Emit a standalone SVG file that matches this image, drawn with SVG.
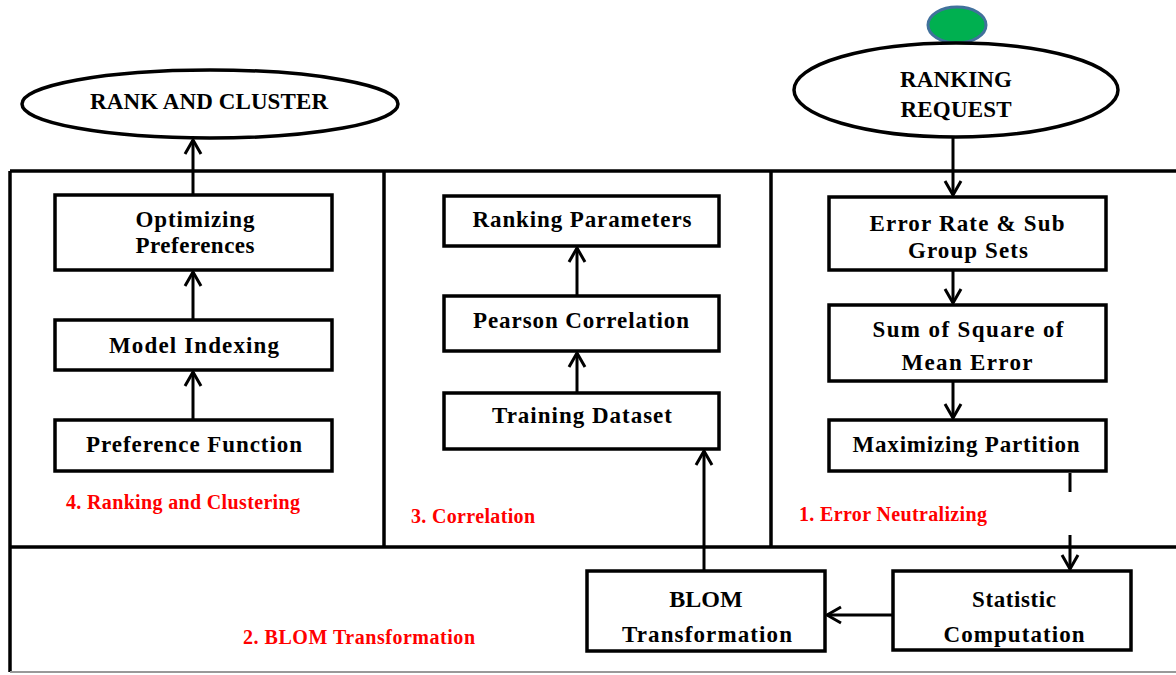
<svg xmlns="http://www.w3.org/2000/svg" width="1176" height="675" viewBox="0 0 1176 675">
<defs>
<marker id="arr" viewBox="0 0 20 20" refX="18" refY="10" markerWidth="20" markerHeight="20" markerUnits="userSpaceOnUse" orient="auto">
<path d="M4,2 L18,10 L4,18" fill="none" stroke="#000" stroke-width="3"/>
</marker>
<style>
.box{fill:#fff;stroke:#000;stroke-width:3.5}
.frame{fill:none;stroke:#000;stroke-width:3.5}
.t{font-family:"Liberation Serif","Times New Roman",serif;font-weight:bold;font-size:23px;fill:#000;text-anchor:middle}
.r{font-family:"Liberation Serif","Times New Roman",serif;font-weight:bold;font-size:20px;fill:#ff0000}
.c{fill:none;stroke:#000;stroke-width:3}
</style>
</defs>
<rect width="1176" height="675" fill="#fff"/>
<g id="frame">
<line class="frame" x1="10" y1="171" x2="1176" y2="171"/>
<line class="frame" x1="10" y1="171" x2="10" y2="672"/>
<line class="frame" x1="10" y1="547" x2="1176" y2="547"/>
<line class="frame" x1="384" y1="171" x2="384" y2="547"/>
<line class="frame" x1="771" y1="171" x2="771" y2="547"/>
<line x1="10" y1="672" x2="1176" y2="672" stroke="#999" stroke-width="2"/>
</g>
<g id="labels">
<text class="r" x="66" y="509" textLength="234" lengthAdjust="spacing">4. Ranking and Clustering</text>
<text class="r" x="411" y="523" textLength="124" lengthAdjust="spacing">3. Correlation</text>
<text class="r" x="799" y="521" textLength="188" lengthAdjust="spacing">1. Error Neutralizing</text>
<text class="r" x="243" y="644" textLength="232" lengthAdjust="spacing">2. BLOM Transformation</text>
</g>
<g id="start-dot"><ellipse cx="957" cy="25" rx="29" ry="18" fill="#00B050" stroke="#41719C" stroke-width="3"/></g>
<g id="ranking-request"><ellipse cx="956" cy="90" rx="162" ry="47" class="box"/>
<text class="t" x="956" y="87" textLength="112" lengthAdjust="spacing">RANKING</text><text class="t" x="956" y="117" textLength="111" lengthAdjust="spacing">REQUEST</text></g>
<g id="rank-and-cluster"><ellipse cx="210" cy="104" rx="188" ry="34" class="box"/>
<text class="t" x="209" y="109" textLength="238" lengthAdjust="spacing">RANK AND CLUSTER</text></g>
<g id="optimizing"><rect class="box" x="55" y="195" width="277" height="75"/>
<text class="t" x="195" y="227" textLength="119" lengthAdjust="spacing">Optimizing</text><text class="t" x="195" y="253" textLength="119" lengthAdjust="spacing">Preferences</text></g>
<g id="model-indexing"><rect class="box" x="55" y="320" width="277" height="50"/>
<text class="t" x="194" y="353" textLength="170" lengthAdjust="spacing">Model Indexing</text></g>
<g id="preference-function"><rect class="box" x="55" y="420" width="277" height="51"/>
<text class="t" x="194" y="452" textLength="216" lengthAdjust="spacing">Preference  Function</text></g>
<g id="ranking-parameters"><rect class="box" x="444" y="196" width="275" height="50"/>
<text class="t" x="582" y="227" textLength="219" lengthAdjust="spacing">Ranking Parameters</text></g>
<g id="pearson"><rect class="box" x="444" y="296" width="275" height="55"/>
<text class="t" x="581" y="328" textLength="216" lengthAdjust="spacing">Pearson  Correlation</text></g>
<g id="training"><rect class="box" x="444" y="393" width="275" height="56"/>
<text class="t" x="582" y="423" textLength="180" lengthAdjust="spacing">Training Dataset</text></g>
<g id="error-rate"><rect class="box" x="829" y="197" width="277" height="73"/>
<text class="t" x="967" y="231" textLength="195" lengthAdjust="spacing">Error Rate &amp; Sub</text><text class="t" x="968" y="258" textLength="120" lengthAdjust="spacing">Group Sets</text></g>
<g id="sum-square"><rect class="box" x="829" y="305" width="277" height="76"/>
<text class="t" x="968" y="337" textLength="191" lengthAdjust="spacing">Sum of Square of</text><text class="t" x="967" y="370" textLength="131" lengthAdjust="spacing">Mean Error</text></g>
<g id="maximizing"><rect class="box" x="829" y="420" width="277" height="51"/>
<text class="t" x="966" y="452" textLength="227" lengthAdjust="spacing">Maximizing Partition</text></g>
<g id="blom"><rect class="box" x="587" y="571" width="238" height="80"/>
<text class="t" x="706" y="607" style="font-size:24px">BLOM</text><text class="t" x="707" y="642" textLength="170" lengthAdjust="spacing">Transformation</text></g>
<g id="statistic"><rect class="box" x="893" y="571" width="238" height="79"/>
<text class="t" x="1014" y="607" textLength="84" lengthAdjust="spacing">Statistic</text><text class="t" x="1014" y="642" textLength="141" lengthAdjust="spacing">Computation</text></g>
<g id="connectors">
<line class="c" x1="193" y1="195" x2="193" y2="140" marker-end="url(#arr)"/>
<line class="c" x1="193" y1="320" x2="193" y2="272" marker-end="url(#arr)"/>
<line class="c" x1="193" y1="420" x2="193" y2="372" marker-end="url(#arr)"/>
<line class="c" x1="577" y1="296" x2="577" y2="248" marker-end="url(#arr)"/>
<line class="c" x1="577" y1="393" x2="577" y2="353" marker-end="url(#arr)"/>
<line class="c" x1="704" y1="571" x2="704" y2="451" marker-end="url(#arr)"/>
<line class="c" x1="953" y1="137" x2="953" y2="195" marker-end="url(#arr)"/>
<line class="c" x1="953" y1="270" x2="953" y2="303" marker-end="url(#arr)"/>
<line class="c" x1="953" y1="381" x2="953" y2="418" marker-end="url(#arr)"/>
<line class="c" x1="1070" y1="473" x2="1070" y2="492"/>
<line class="c" x1="1070" y1="535" x2="1070" y2="569" marker-end="url(#arr)"/>
<line class="c" x1="893" y1="615" x2="827" y2="615" marker-end="url(#arr)"/>
</g>
</svg>
